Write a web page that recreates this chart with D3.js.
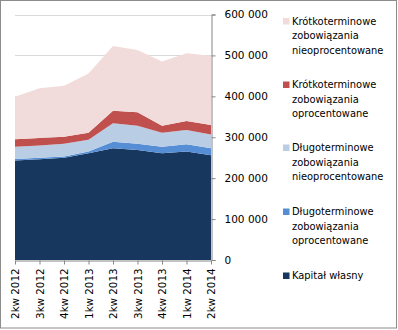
<!DOCTYPE html>
<html><head><meta charset="utf-8">
<script src="https://cdn.jsdelivr.net/npm/d3@7"></script>
<style>
html,body{margin:0;padding:0;background:#fff;}
svg{display:block;}
text{font-family:"DejaVu Sans",sans-serif;fill:#000;}
</style></head>
<body>
<svg id="chart" width="398" height="330"></svg>
<script>
const categories = ["2kw 2012","3kw 2012","4kw 2012","1kw 2013","2kw 2013","3kw 2013","4kw 2013","1kw 2014","2kw 2014"];
const kapitalWlasny = [243000,246000,250000,261000,273000,269000,261000,265000,256000];
const dlugoOprocentowane = [4000,4000,3000,4000,16000,15000,16000,18000,17000];
const dlugoNieoprocentowane = [30000,30000,31000,29000,45000,44000,34000,35000,34000];
const krotkoOprocentowane = [18000,18000,17000,17000,31000,33000,17000,22000,23000];
const krotkoNieoprocentowane = [104000,122000,125000,145000,158000,152000,157000,165000,169000];
const yTicks = [0,100000,200000,300000,400000,500000,600000];

const seriesDefs = [
  {name:["Kapitał własny"], values:kapitalWlasny, color:"#17375e"},
  {name:["Długoterminowe","zobowiązania","oprocentowane"], values:dlugoOprocentowane, color:"#558ed5"},
  {name:["Długoterminowe","zobowiązania","nieoprocentowane"], values:dlugoNieoprocentowane, color:"#b9cde5"},
  {name:["Krótkoterminowe","zobowiązania","oprocentowane"], values:krotkoOprocentowane, color:"#c0504d"},
  {name:["Krótkoterminowe","zobowiązania","nieoprocentowane"], values:krotkoNieoprocentowane, color:"#f2dcdb"}
];

const svg = d3.select("#chart");
const pLeft = 15, pRight = 211, pTop = 14.5, pBottom = 260;

const x = d3.scalePoint().domain(categories).range([pLeft,pRight]);
const y = d3.scaleLinear().domain([0,600000]).range([pBottom,pTop]);

const table = categories.map((c,i)=>{
  const o = {cat:c};
  seriesDefs.forEach((s,j)=>o["s"+j]=s.values[i]);
  return o;
});
const stack = d3.stack().keys(seriesDefs.map((s,j)=>"s"+j));
const stacked = stack(table);

// chart border
svg.append("rect").attr("x",0.5).attr("y",0.5).attr("width",396).attr("height",327.5)
  .attr("fill","none").attr("stroke","#8c8c8c").attr("stroke-width",1);

// gridlines
svg.append("g").selectAll("line").data(yTicks.filter(d=>d>0)).join("line")
  .attr("x1",pLeft).attr("x2",pRight)
  .attr("y1",d=>Math.round(y(d))+0.5).attr("y2",d=>Math.round(y(d))+0.5)
  .attr("stroke","#d9d9d9").attr("stroke-width",1);

const area = d3.area()
  .x(d=>x(d.data.cat))
  .y0(d=>y(d[0])).y1(d=>y(d[1]));

svg.append("g").selectAll("path").data(stacked).join("path")
  .attr("d",area).attr("fill",(d,i)=>seriesDefs[i].color);

const locale = d3.formatLocale({decimal:",",thousands:"\u00a0",grouping:[3],currency:["","zł"]});
const fmt = locale.format(",");

// right axis
const yAxis = d3.axisRight(y).tickValues(yTicks).tickSize(4).tickPadding(9).tickFormat(fmt);
const gy = svg.append("g").attr("transform",`translate(${pRight+0.5},0)`).call(yAxis);
gy.select(".domain").attr("stroke","#868686");
gy.selectAll(".tick line").attr("stroke","#868686");
gy.selectAll(".tick text").attr("font-size","10.5px").attr("font-family","DejaVu Sans");

// bottom axis
const xAxis = d3.axisBottom(x).tickSize(4).tickSizeOuter(0).tickPadding(6);
const gx = svg.append("g").attr("transform",`translate(0,${pBottom+0.5})`).call(xAxis);
gx.select(".domain").attr("stroke","#868686");
gx.selectAll(".tick line").attr("stroke","#868686");
gx.selectAll(".tick text")
  .attr("font-size","10.3px").attr("font-family","DejaVu Sans")
  .attr("transform","rotate(-90)")
  .attr("text-anchor","end")
  .attr("x",-8).attr("y",0).attr("dy","0.35em");

// legend
const legendTops = [21.5, 85, 148, 212, 276];
const legendOrder = [4,3,2,1,0];
const lg = svg.append("g");
legendOrder.forEach((si,k)=>{
  const s = seriesDefs[si];
  const g = lg.append("g").attr("transform",`translate(283,${legendTops[k]})`);
  g.append("rect").attr("x",0).attr("y",-3.5).attr("width",6.5).attr("height",6.5).attr("fill",s.color);
  s.name.forEach((line,li)=>{
    g.append("text").attr("x",9).attr("y",li*14.3).attr("dy","0.35em")
      .attr("font-size","9.9px").text(line);
  });
});
</script>
</body></html>
